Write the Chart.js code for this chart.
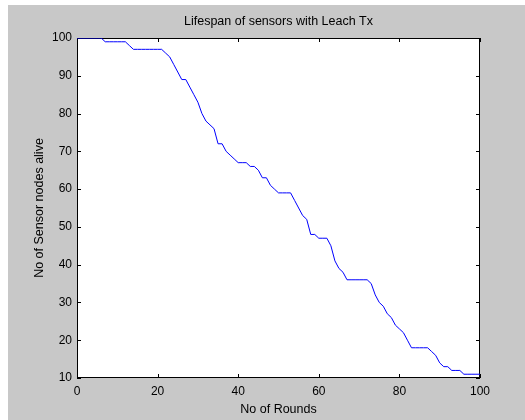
<!DOCTYPE html>
<html>
<head>
<meta charset="utf-8">
<script src="https://cdn.jsdelivr.net/npm/chart.js@4/dist/chart.umd.min.js"></script>
<style>
  html, body { margin: 0; padding: 0; background: #fff; }
  #wrap { position: relative; width: 525px; height: 420px; }
</style>
</head>
<body>
<div id="wrap"><canvas id="lifespan"></canvas></div>
<script>
// rounds 0..100 and sensor nodes still alive after each round
const ROUNDS = [
  0, 1, 2, 3, 4, 5, 6, 7, 8, 9,
  10, 11, 12, 13, 14, 15, 16, 17, 18, 19,
  20, 21, 22, 23, 24, 25, 26, 27, 28, 29,
  30, 31, 32, 33, 34, 35, 36, 37, 38, 39,
  40, 41, 42, 43, 44, 45, 46, 47, 48, 49,
  50, 51, 52, 53, 54, 55, 56, 57, 58, 59,
  60, 61, 62, 63, 64, 65, 66, 67, 68, 69,
  70, 71, 72, 73, 74, 75, 76, 77, 78, 79,
  80, 81, 82, 83, 84, 85, 86, 87, 88, 89,
  90, 91, 92, 93, 94, 95, 96, 97, 98, 99,
  100,
];

const ALIVE = [
  100, 100, 100, 100, 100, 100, 100, 99, 99, 99,
  99, 99, 99, 98, 97, 97, 97, 97, 97, 97,
  97, 97, 96, 95, 93, 91, 89, 89, 87, 85,
  83, 80, 78, 77, 76, 72, 72, 70, 69, 68,
  67, 67, 67, 66, 66, 65, 63, 63, 61, 60,
  59, 59, 59, 59, 57, 55, 53, 52, 48, 48,
  47, 47, 47, 45, 41, 39, 38, 36, 36, 36,
  36, 36, 36, 35, 32, 30, 29, 27, 26, 24,
  23, 22, 20, 18, 18, 18, 18, 18, 17, 16,
  14, 13, 13, 12, 12, 12, 11, 11, 11, 11,
  11,
];

const X_TICKS = [0, 20, 40, 60, 80, 100];
const Y_TICKS = [10, 20, 30, 40, 50, 60, 70, 80, 90, 100];

const FIG_GRAY = "#c8c8c8";
const LINE_BLUE = "#0000ff";
const FONT = "'Liberation Sans', Arial, sans-serif";

// gray figure backdrop (with the thin white strip at top/left) and white axes box
const figureBackground = {
  id: "figureBackground",
  beforeDraw(chart) {
    const { ctx, chartArea: a } = chart;
    ctx.save();
    ctx.fillStyle = "#fff";
    ctx.fillRect(0, 0, chart.width, chart.height);
    ctx.fillStyle = FIG_GRAY;
    ctx.fillRect(8, 5, chart.width - 8, chart.height - 5);
    ctx.fillStyle = "#fff";
    ctx.fillRect(a.left, a.top, a.right - a.left, a.bottom - a.top);
    ctx.restore();
  },
};

// box around the axes and MATLAB-style inward ticks on all four sides
// (drawn before the line so the curve sits on top of the frame)
const matlabBox = {
  id: "matlabBox",
  beforeDatasetsDraw(chart) {
    const { ctx, chartArea: a, scales } = chart;
    const len = 4;
    ctx.save();
    ctx.strokeStyle = "#000";
    ctx.lineWidth = 1;
    ctx.strokeRect(a.left + 0.5, a.top + 0.5, a.right - a.left - 1, a.bottom - a.top - 1);
    ctx.beginPath();
    X_TICKS.forEach((v) => {
      const px = Math.round(scales.x.getPixelForValue(v)) + 0.5;
      ctx.moveTo(px, a.bottom);
      ctx.lineTo(px, a.bottom - len);
      ctx.moveTo(px, a.top);
      ctx.lineTo(px, a.top + len);
    });
    Y_TICKS.forEach((v) => {
      const py = Math.round(scales.y.getPixelForValue(v)) + 0.5;
      ctx.moveTo(a.left, py);
      ctx.lineTo(a.left + len, py);
      ctx.moveTo(a.right, py);
      ctx.lineTo(a.right - len, py);
    });
    ctx.stroke();
    ctx.restore();
  },
};

function initChart() {
  const canvas = document.getElementById("lifespan");
  const ctx = canvas.getContext("2d");

  new Chart(ctx, {
    type: "line",
    data: {
      datasets: [
        {
          data: ROUNDS.map((r, i) => ({ x: r, y: ALIVE[i] })),
          borderColor: LINE_BLUE,
          borderWidth: 1,
          pointRadius: 0,
          tension: 0,
          fill: false,
        },
      ],
    },
    options: {
      responsive: true,
      maintainAspectRatio: false,
      animation: false,
      layout: { padding: { left: 0, top: 0, right: 45, bottom: 0 } },
      scales: {
        x: {
          type: "linear",
          min: 0,
          max: 100,
          afterFit: (s) => { s.height = 42; },
          afterBuildTicks: (s) => { s.ticks = X_TICKS.map((v) => ({ value: v })); },
          grid: { display: true, drawOnChartArea: false, drawTicks: false },
          border: { display: false },
          ticks: {
            padding: 6,
            color: "#000",
            font: { size: 12, family: FONT },
          },
          title: {
            display: true,
            text: "No of Rounds",
            color: "#000",
            font: { size: 12.5, family: FONT },
            padding: { top: 0, bottom: 3 },
          },
        },
        y: {
          type: "linear",
          min: 10,
          max: 100,
          afterFit: (s) => { s.width = 77; },
          afterBuildTicks: (s) => { s.ticks = Y_TICKS.map((v) => ({ value: v })); },
          grid: { display: true, drawOnChartArea: false, drawTicks: false },
          border: { display: false },
          ticks: {
            padding: 5,
            color: "#000",
            font: { size: 12, family: FONT },
          },
          title: {
            display: true,
            text: "No of Sensor nodes alive",
            color: "#000",
            font: { size: 12.5, family: FONT },
            padding: { top: 32, bottom: 0 },
          },
        },
      },
      plugins: {
        legend: { display: false },
        tooltip: { enabled: false },
        title: {
          display: true,
          fullSize: false,
          text: "Lifespan of sensors with Leach Tx",
          color: "#000",
          font: { size: 12.5, weight: "normal", family: FONT },
          padding: { top: 14, bottom: 9 },
        },
      },
    },
    plugins: [figureBackground, matlabBox],
  });
}

document.addEventListener("DOMContentLoaded", initChart);
</script>
</body>
</html>
